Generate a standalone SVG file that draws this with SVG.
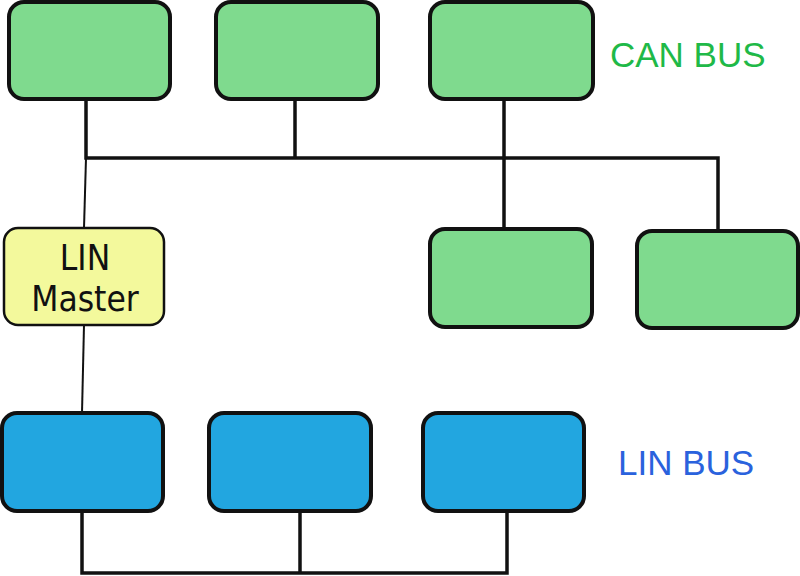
<svg xmlns="http://www.w3.org/2000/svg" width="800" height="576" viewBox="0 0 800 576">
<style>
.can{fill:#7fda8e;stroke:#111;stroke-width:4}
.lin{fill:#22a6e0;stroke:#111;stroke-width:4}
.master{fill:#f3f99c;stroke:#111;stroke-width:2.5}
.wire{fill:none;stroke:#111;stroke-width:3.5;stroke-linejoin:miter}
.thin{fill:none;stroke:#111;stroke-width:2}
.lbl{font-family:"Liberation Sans",Arial,sans-serif;font-size:35px}
.mt{font-family:"DejaVu Sans Condensed","DejaVu Sans",sans-serif;font-size:35px;fill:#111;text-anchor:middle}
</style>
<rect width="800" height="576" fill="#fff"/>
<g id="connectors">
<polyline class="wire" points="86,99 86,158 718,158 718,231"/>
<line class="wire" x1="295" y1="99" x2="295" y2="158"/>
<line class="wire" x1="504" y1="99" x2="504" y2="229"/>
<line class="thin" x1="86" y1="158" x2="84" y2="228"/>
<line class="thin" x1="84" y1="325" x2="82" y2="413"/>
<polyline class="wire" points="82,511 82,573 507,573 507,511"/>
<line class="wire" x1="300" y1="511" x2="300" y2="573"/>
</g>
<g id="can1"><rect class="can" x="9" y="2" width="161" height="97" rx="15"/></g>
<g id="can2"><rect class="can" x="216" y="2" width="162" height="97" rx="15"/></g>
<g id="can3"><rect class="can" x="430" y="2" width="163" height="97" rx="15"/></g>
<g id="can4"><rect class="can" x="430" y="229" width="162" height="98" rx="15"/></g>
<g id="can5"><rect class="can" x="637" y="231" width="161" height="97" rx="15"/></g>
<g id="lin-master"><rect class="master" x="4" y="228" width="160" height="97" rx="14"/>
<text class="mt" x="85" y="270">LIN</text>
<text class="mt" x="85" y="311">Master</text></g>
<g id="lin1"><rect class="lin" x="2" y="413" width="161" height="98" rx="15"/></g>
<g id="lin2"><rect class="lin" x="209" y="413" width="162" height="98" rx="15"/></g>
<g id="lin3"><rect class="lin" x="423" y="413" width="161" height="98" rx="15"/></g>
<g id="labels">
<text class="lbl" x="610" y="67" fill="#1fb948">CAN BUS</text>
<text class="lbl" x="618" y="475" fill="#2a62dd">LIN BUS</text>
</g>
</svg>
